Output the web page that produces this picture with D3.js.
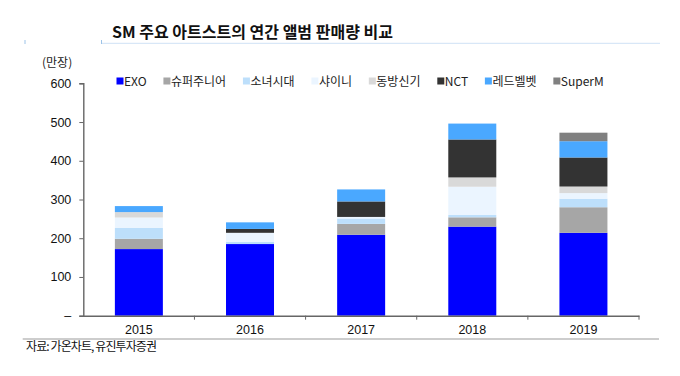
<!DOCTYPE html>
<html><head><meta charset="utf-8">
<script src="https://cdn.jsdelivr.net/npm/d3@7/dist/d3.min.js"></script>
<style>body{margin:0;background:#fff}svg{display:block}</style>
</head><body>
<svg id="chart" width="680" height="376"></svg>
<script>
const years = ["2015","2016","2017","2018","2019"];
const seriesNames = ["EXO","슈퍼주니어","소녀시대","샤이니","동방신기","NCT","레드벨벳","SuperM"];
const EXO      = [172, 185, 209, 230, 214];
const SUPERJR  = [26.5, 0, 28, 24, 66];
const SNSD     = [28, 6, 14, 6, 22];
const SHINEE   = [27, 23, 4, 73, 14.5];
const TVXQ     = [14, 0, 0, 24, 17];
const NCT      = [0, 10, 40, 98, 75];
const REDVELVET= [15.5, 17, 31, 41, 42];
const SUPERM   = [0, 0, 0, 0, 22];
const yTicks = [0, 100, 200, 300, 400, 500, 600];
const colors = ["#0000FF","#A6A6A6","#BDDFFB","#EBF5FF","#D9D9D9","#333333","#4AA8FF","#808080"];
const title = "SM 주요 아트스트의 연간 앨범 판매량 비교";
const unitLabel = "(만장)";
const source = "자료: 가온차트, 유진투자증권";

(function () {
const seriesValues = [EXO, SUPERJR, SNSD, SHINEE, TVXQ, NCT, REDVELVET, SUPERM];
const table = years.map((yr, i) => {
  const row = {year: yr};
  seriesNames.forEach((s, k) => row[s] = seriesValues[k][i]);
  return row;
});

const svg = d3.select("#chart");
const KR = "'Noto Sans CJK KR', 'Liberation Sans', sans-serif";
const LAT = "'Liberation Sans', Arial, sans-serif";

const pLeft = 83.3, pRight = 639, pTop = 83.3, pBottom = 315.7;
const x = d3.scaleBand().domain(years).range([pLeft, pRight]).padding(0);
const y = d3.scaleLinear().domain([0, 600]).range([pBottom, pTop]);

// header
svg.append("text").attr("x", 112).attr("y", 37.5)
  .attr("font-family", KR).attr("font-weight", "bold").attr("font-size", 16)
  .attr("fill", "#111").text(title);
svg.append("line").attr("x1", 101).attr("x2", 660).attr("y1", 43.3).attr("y2", 43.3)
  .attr("stroke", "#cfe2f5").attr("stroke-width", 1);
svg.append("line").attr("x1", 25).attr("x2", 25).attr("y1", 40).attr("y2", 44)
  .attr("stroke", "#9cc3e8").attr("stroke-width", 1);
svg.append("line").attr("x1", 101.5).attr("x2", 101.5).attr("y1", 40).attr("y2", 44)
  .attr("stroke", "#9cc3e8").attr("stroke-width", 1);

svg.append("text").attr("x", 42).attr("y", 66.5)
  .attr("font-family", KR).attr("font-size", 12).attr("fill", "#222").text(unitLabel);

// stacked bars
const stack = d3.stack().keys(seriesNames)(table);
const bw = 48;
svg.append("g").selectAll("g").data(stack).join("g")
  .attr("fill", (d, i) => colors[i])
  .selectAll("rect").data(d => d).join("rect")
  .attr("x", d => x(d.data.year) + x.bandwidth() / 2 - bw / 2)
  .attr("width", bw)
  .attr("y", d => y(d[1]))
  .attr("height", d => Math.max(0, y(d[0]) - y(d[1])));

// y axis
const yAxis = d3.axisLeft(y).tickValues(yTicks).tickSize(4).tickPadding(8)
  .tickFormat(d => d === 0 ? "–" : d);
const gy = svg.append("g").attr("transform", `translate(${pLeft},0)`).call(yAxis);
gy.select(".domain").attr("stroke", "#666").attr("stroke-width", 1.4);
gy.selectAll(".tick line").attr("stroke", "#666");
gy.selectAll(".tick text").attr("font-family", LAT).attr("font-size", 12.5).attr("fill", "#111");

// x axis
const gx = svg.append("g").attr("transform", `translate(0,${pBottom})`)
  .call(d3.axisBottom(x).tickSize(0).tickPadding(9));
gx.select(".domain").attr("stroke", "#666").attr("stroke-width", 1.4);
gx.selectAll(".tick text").attr("font-family", LAT).attr("font-size", 12.5).attr("fill", "#111");
// band boundary ticks
svg.append("g").selectAll("line").data(years).join("line")
  .attr("x1", d => x(d) + x.bandwidth()).attr("x2", d => x(d) + x.bandwidth())
  .attr("y1", pBottom).attr("y2", pBottom + 4)
  .attr("stroke", "#666").attr("stroke-width", 1);

// legend
const lg = svg.append("g");
let lx = 116.5;
seriesNames.forEach((s, i) => {
  lg.append("rect").attr("x", lx).attr("y", 77.5).attr("width", 7).attr("height", 7).attr("fill", colors[i]);
  const t = lg.append("text").attr("x", lx + 7.5).attr("y", 85.5)
    .attr("font-family", KR).attr("font-size", 12).attr("fill", "#222").text(s);
  lx += 7.5 + t.node().getComputedTextLength() + 16.8;
});

// footer
svg.append("line").attr("x1", 22.7).attr("x2", 659).attr("y1", 339).attr("y2", 339)
  .attr("stroke", "#bdbdbd").attr("stroke-width", 1.5);
svg.append("text").attr("x", 26).attr("y", 351)
  .attr("font-family", KR).attr("font-size", 12).attr("letter-spacing", "-0.9px")
  .attr("fill", "#111").text(source);
})();
</script>
</body></html>
